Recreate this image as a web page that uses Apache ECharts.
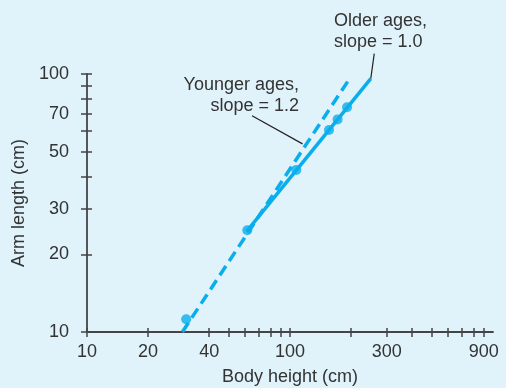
<!DOCTYPE html>
<html>
<head>
<meta charset="utf-8">
<script src="https://cdn.jsdelivr.net/npm/echarts@6/dist/echarts.min.js"></script>
<style>
  html, body { margin: 0; padding: 0; background: #e0f2fa; }
  #chart { width: 506px; height: 388px; }
</style>
</head>
<body>
<div id="chart"></div>
<script>
// Arm length against body height on log-log axes
const xTickValues = [10, 20, 40, 50, 60, 70, 80, 90, 100, 200, 300, 400, 500, 600, 700, 800, 900];
const xLabelValues = [10, 20, 40, 100, 300, 900];
const yTickValues = [10, 20, 30, 40, 50, 60, 70, 80, 90, 100];
const yLabelValues = [10, 20, 30, 50, 70, 100];

// measured points
const bodyHeight = [30.8, 61.6, 107.4, 155.6, 171.6, 191];
const armLength = [11.2, 24.8, 42.5, 60.7, 66.7, 74.3];

// fitted power laws
const youngerHeight = [29.5, 195];
const youngerArm = [10, 95];
const olderHeight = [61, 250];
const olderArm = [24.5, 96];

// leader lines for the two notes, [height, arm]
const olderLeader = [[260, 120], [250, 96]];
const youngerLeader = [[65, 68.9], [115.3, 53.6]];

const FONT = '"Liberation Sans", Arial, sans-serif';
const TEXT = '#333333';
const AXIS = '#444444';
const BLUE = '#0aaeec';

const zip = (a, b) => a.map((v, i) => [v, b[i]]);

const chart = echarts.init(document.getElementById('chart'), null, { renderer: 'canvas' });

const logX = { type: 'log', logBase: 10, min: 10, max: 1000, gridIndex: 0, position: 'bottom', splitLine: { show: false } };
const logY = { type: 'log', logBase: 10, min: 10, max: 100, gridIndex: 0, position: 'left', splitLine: { show: false } };

chart.setOption({
  backgroundColor: '#e0f2fa',
  animation: false,
  grid: { left: 87, top: 74, width: 406, height: 258, containLabel: false, outerBoundsMode: 'none' },
  xAxis: [
    Object.assign({}, logX, {
      name: 'Body height (cm)',
      nameLocation: 'middle',
      nameGap: 36,
      nameTextStyle: { fontSize: 18, color: TEXT, fontFamily: FONT },
      axisLine: { show: true, lineStyle: { color: AXIS, width: 1.8 } },
      axisTick: { show: true, customValues: xTickValues, inside: false, length: 5, lineStyle: { color: AXIS, width: 1.5 } },
      axisLabel: { show: true, customValues: xLabelValues, fontSize: 18, color: TEXT, fontFamily: FONT, margin: 11 }
    }),
    Object.assign({}, logX, {
      axisLine: { show: false },
      axisTick: { show: true, customValues: xTickValues, inside: true, length: 4, lineStyle: { color: AXIS, width: 1.5 } },
      axisLabel: { show: false }
    })
  ],
  yAxis: [
    Object.assign({}, logY, {
      name: 'Arm length (cm)',
      nameLocation: 'middle',
      nameGap: 54,
      nameTextStyle: { fontSize: 18, color: TEXT, fontFamily: FONT },
      axisLine: { show: true, lineStyle: { color: AXIS, width: 1.8 } },
      axisTick: { show: true, customValues: yTickValues, inside: false, length: 6, lineStyle: { color: AXIS, width: 1.5 } },
      axisLabel: { show: true, customValues: yLabelValues, fontSize: 18, color: TEXT, fontFamily: FONT, margin: 18 }
    }),
    Object.assign({}, logY, {
      axisLine: { show: false },
      axisTick: { show: true, customValues: yTickValues, inside: true, length: 5, lineStyle: { color: AXIS, width: 1.5 } },
      axisLabel: { show: false }
    })
  ],
  series: [
    {
      name: 'Younger ages',
      type: 'line',
      xAxisIndex: 0, yAxisIndex: 0,
      data: zip(youngerHeight, youngerArm),
      symbol: 'none',
      lineStyle: { color: BLUE, width: 3.5, type: [11, 6] },
      z: 2
    },
    {
      name: 'Older ages',
      type: 'line',
      xAxisIndex: 0, yAxisIndex: 0,
      data: zip(olderHeight, olderArm),
      symbol: 'none',
      lineStyle: { color: BLUE, width: 3.5 },
      z: 3
    },
    {
      name: 'Measured',
      type: 'scatter',
      xAxisIndex: 0, yAxisIndex: 0,
      data: zip(bodyHeight, armLength),
      symbol: 'circle',
      symbolSize: 10,
      itemStyle: { color: BLUE },
      z: 4
    }
  ]
});

// notes and their leader lines
const toPx = p => chart.convertToPixel({ xAxisIndex: 0, yAxisIndex: 0 }, p);
const leader = pts => {
  const a = toPx(pts[0]), b = toPx(pts[1]);
  return {
    type: 'line',
    shape: { x1: a[0], y1: a[1], x2: b[0], y2: b[1] },
    style: { stroke: '#222222', lineWidth: 1.2 },
    z: 10
  };
};

chart.setOption({
  graphic: [
    leader(olderLeader),
    leader(youngerLeader),
    {
      type: 'text', x: 334, y: 11, z: 10,
      style: { text: 'Older ages,\nslope = 1.0', font: '18px ' + FONT, fill: TEXT, textAlign: 'left', textVerticalAlign: 'top', lineHeight: 21 }
    },
    {
      type: 'text', x: 299, y: 75, z: 10,
      style: { text: 'Younger ages,\nslope = 1.2', font: '18px ' + FONT, fill: TEXT, textAlign: 'right', textVerticalAlign: 'top', lineHeight: 21 }
    }
  ]
});
</script>
</body>
</html>
